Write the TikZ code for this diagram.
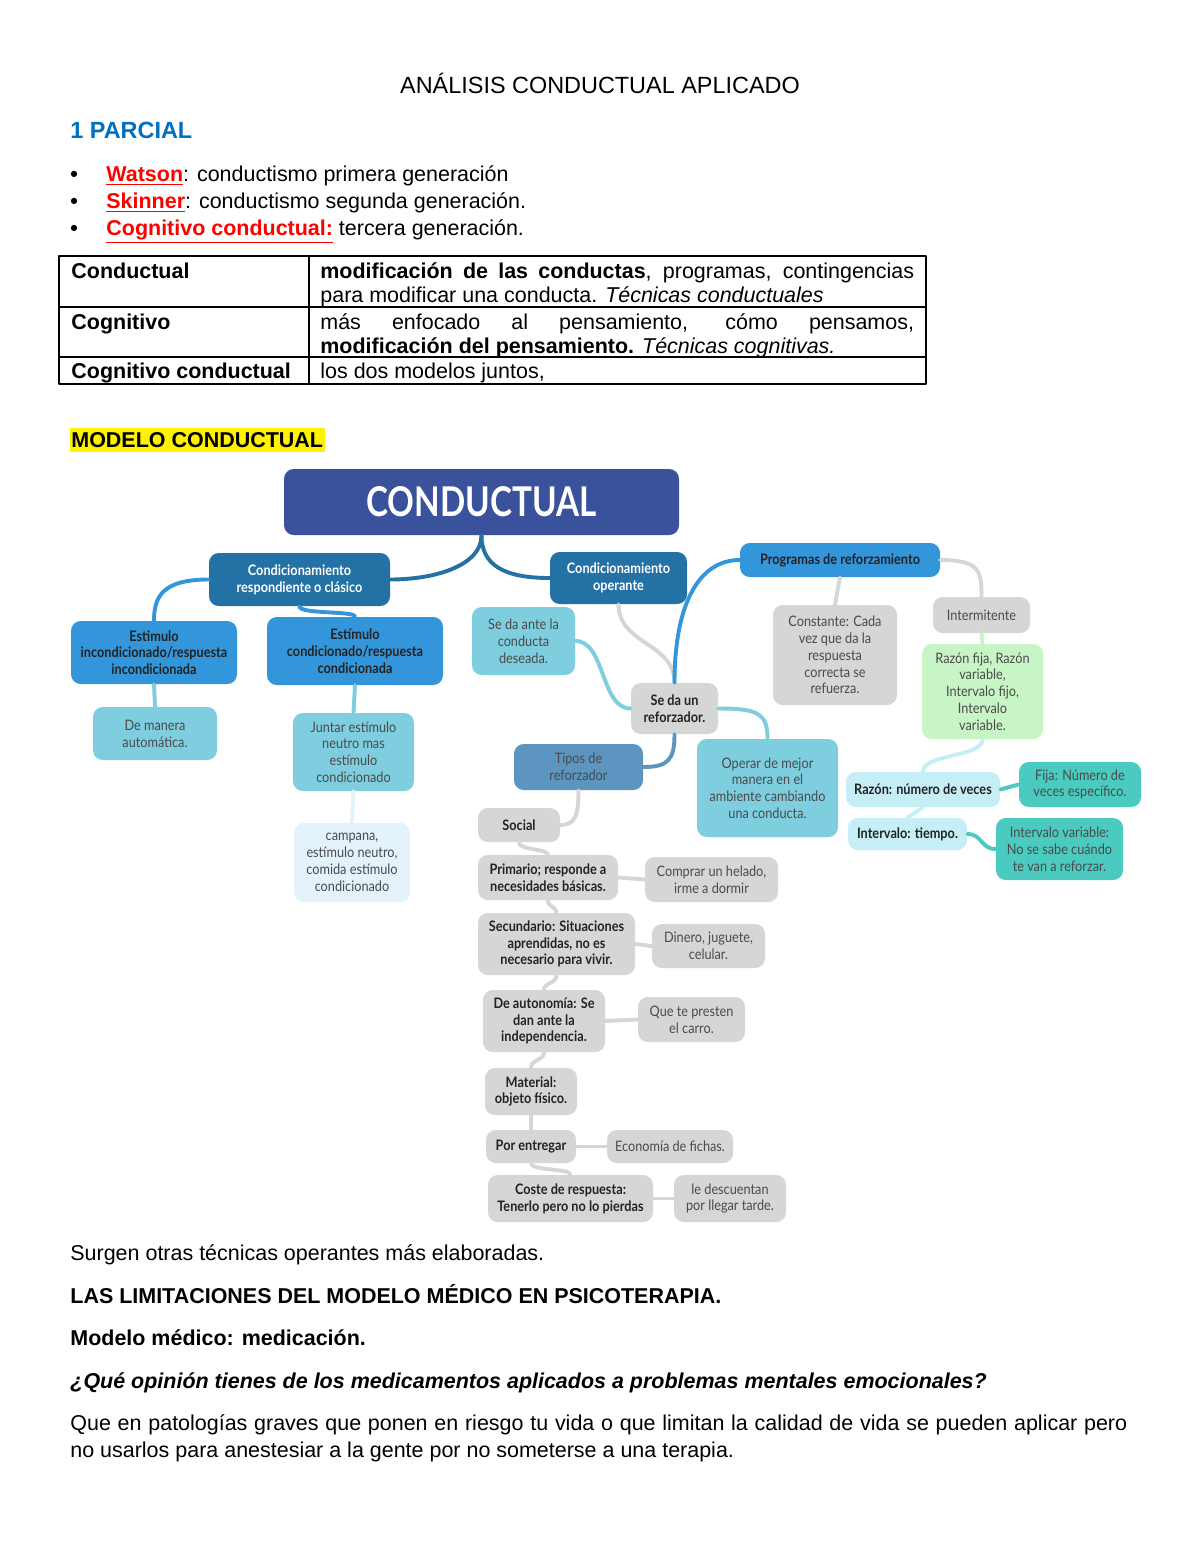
\documentclass[tikz,border=0pt]{standalone}
\usepackage{fontspec}
\setmainfont{Liberation Sans}
\newfontfamily\mapfont[FakeStretch=0.88]{Lato}
\newfontfamily\titfont[FakeStretch=0.81]{Lato}
\newcommand{\pxu}{0.018cm}

\definecolor{titblue}{HTML}{3A519C}
\definecolor{deepblue}{HTML}{2471A5}
\definecolor{midblue}{HTML}{3396DA}
\definecolor{skyc}{HTML}{7FCEE0}
\definecolor{paleb}{HTML}{E4F2FC}
\definecolor{greyb}{HTML}{D4D7D5}
\definecolor{steelb}{HTML}{5B95C0}
\definecolor{mintg}{HTML}{C8F5C6}
\definecolor{icec}{HTML}{C6EEF7}
\definecolor{tealc}{HTML}{4BCBC0}
\definecolor{inkd}{HTML}{222222}
\definecolor{inkg}{HTML}{4A4A4A}
\definecolor{partblue}{HTML}{0070C0}
\definecolor{redname}{HTML}{FF0000}

\tikzset{
  txt/.style={anchor=base west,inner sep=0pt,font=\fontsize{11}{13}\selectfont},
  map/.style={rounded corners=5pt,inner sep=1pt,align=center,text=inkg,
    font=\mapfont\fontsize{7.4}{8.6}\selectfont},
  sz/.style 2 args={minimum width=#1*\pxu,minimum height=#2*\pxu},
  lnk/.style={line width=2pt},
}

\begin{document}
\begin{tikzpicture}[x=0.018cm,y=-0.018cm,line cap=round,line join=round]
  \fill[white] (0,0) rectangle (1200,1553);
  \useasboundingbox (0,0) rectangle (1200,1553);
  \node[txt,anchor=base,font=\fontsize{12}{14}\selectfont] (title) at (600,93) {ANÁLISIS CONDUCTUAL APLICADO};
  \node[txt,text=partblue,font=\fontsize{12}{14}\selectfont\bfseries] (parcial) at (70,138) {1 PARCIAL};
  \node[txt] (b1) at (70,181) {\textbf{•}};
  \node[txt] (b2) at (70,208) {\textbf{•}};
  \node[txt] (b3) at (70,235) {\textbf{•}};
  \node[txt] (watson) at (106,181) {\textcolor{redname}{\textbf{\underline{Watson}}}: conductismo primera generación};
  \node[txt] (skinner) at (106,208) {\textcolor{redname}{\textbf{\underline{Skinner}}}: conductismo segunda generación.};
  \node[txt] (cogcon) at (106,235) {\textcolor{redname}{\textbf{\underline{Cognitivo conductual:}}} tercera generación.};
  \draw[line width=1pt] (59,256) rectangle (926,384);
  \draw[line width=1pt] (59,307) -- (926,307);
  \draw[line width=1pt] (59,357) -- (926,357);
  \draw[line width=1pt] (309,256) -- (309,384);
  \node[txt] (r1a) at (71,278) {\textbf{Conductual}};
  \node[txt] (r1b) at (320,278) {\makebox[10.69cm][s]{\textbf{modificación de las conductas}, programas, contingencias}};
  \node[txt] (r1c) at (320,302) {para modificar una conducta. \textit{Técnicas conductuales}};
  \node[txt] (r2a) at (71,329) {\textbf{Cognitivo}};
  \node[txt] (r2b) at (320,329) {\makebox[10.69cm][s]{más enfocado al pensamiento, cómo pensamos,}};
  \node[txt] (r2c) at (320,353) {\textbf{modificación del pensamiento.} \textit{Técnicas cognitivas.}};
  \node[txt] (r3a) at (71,378) {\textbf{Cognitivo conductual}};
  \node[txt] (r3b) at (320,378) {los dos modelos juntos,};
  \fill[yellow] (70,428) rectangle (325,452);
  \node[txt] (modelo) at (71,447) {\textbf{MODELO CONDUCTUAL}};

  \node[map,sz={395}{66},fill=titblue,text=white,font=\titfont\bfseries\fontsize{21}{24}\selectfont] (cond) at (481.5,502) {CONDUCTUAL};
  \node[map,sz={181}{53},fill=deepblue,text=white] (resp) at (299.5,579.5) {\bfseries Condicionamiento\\\bfseries respondiente o clásico};
  \node[map,sz={137}{52},fill=deepblue,text=white] (oper) at (618.5,578) {\bfseries Condicionamiento\\\bfseries operante};
  \node[map,sz={200}{34},fill=midblue,text=inkd] (prog) at (840,560) {\bfseries Programas de reforzamiento};
  \node[map,sz={166}{63},fill=midblue,text=inkd] (estinc) at (154,652.5) {\bfseries Estimulo\\\bfseries incondicionado/respuesta\\\bfseries incondicionada};
  \node[map,sz={176}{68},fill=midblue,text=inkd] (estcon) at (355,651) {\bfseries Estímulo\\\bfseries condicionado/respuesta\\\bfseries condicionada};
  \node[map,sz={124}{53},fill=skyc] (auto) at (155,733.5) {De manera\\automática.};
  \node[map,sz={121}{78},fill=skyc] (juntar) at (353.5,752) {Juntar estímulo\\neutro mas\\estímulo\\condicionado};
  \node[map,sz={116}{79},fill=paleb] (campana) at (352,862.5) {campana,\\estímulo neutro,\\comida estímulo\\condicionado};
  \node[map,sz={103}{68},fill=skyc] (ante) at (523.5,641) {Se da ante la\\conducta\\deseada.};
  \node[map,sz={87}{51},fill=greyb,text=inkd] (refz) at (674.5,708.5) {\bfseries Se da un\\\bfseries reforzador.};
  \node[map,sz={129}{46},fill=steelb] (tipos) at (578.5,767) {Tipos de\\reforzador};
  \node[map,sz={141}{98},fill=skyc] (operar) at (767.5,788) {Operar de mejor\\manera en el\\ambiente cambiando\\una conducta.};
  \node[map,sz={124}{100},fill=greyb] (const) at (835,655) {Constante: Cada\\vez que da la\\respuesta\\correcta se\\refuerza.};
  \node[map,sz={97}{36},fill=greyb] (interm) at (981.5,615) {Intermitente};
  \node[map,sz={121}{95},fill=mintg] (rfija) at (982.5,691.5) {Razón fija, Razón\\variable,\\Intervalo fijo,\\Intervalo\\variable.};
  \node[map,sz={154}{35},fill=icec,text=inkd] (razon) at (923,789.5) {\bfseries Razón: número de veces};
  \node[map,sz={122}{45},fill=tealc] (fija) at (1080,784.5) {Fija: Número de\\veces específico.};
  \node[map,sz={119}{32},fill=icec,text=inkd] (interv) at (907.5,834) {\bfseries Intervalo: tiempo.};
  \node[map,sz={127}{62},fill=tealc] (ivar) at (1059.5,849) {Intervalo variable:\\No se sabe cuándo\\te van a reforzar.};
  \node[map,sz={82}{34},fill=greyb,text=inkd] (social) at (519,825) {\bfseries Social};
  \node[map,sz={140}{45},fill=greyb,text=inkd] (prim) at (548,877.5) {\bfseries Primario; responde a\\\bfseries necesidades básicas.};
  \node[map,sz={133}{45},fill=greyb] (comprar) at (711.5,879.5) {Comprar un helado,\\irme a dormir};
  \node[map,sz={157}{62},fill=greyb,text=inkd] (secu) at (556.5,944) {\bfseries Secundario: Situaciones\\\bfseries aprendidas, no es\\\bfseries necesario para vivir.};
  \node[map,sz={113}{44},fill=greyb] (dinero) at (708.5,946) {Dinero, juguete,\\celular.};
  \node[map,sz={122}{62},fill=greyb,text=inkd] (auton) at (544,1021) {\bfseries De autonomía: Se\\\bfseries dan ante la\\\bfseries independencia.};
  \node[map,sz={107}{45},fill=greyb] (presten) at (691.5,1019.5) {Que te presten\\el carro.};
  \node[map,sz={92}{47},fill=greyb,text=inkd] (material) at (531,1091.5) {\bfseries Material:\\\bfseries objeto físico.};
  \node[map,sz={90}{33},fill=greyb,text=inkd] (entregar) at (531,1146.5) {\bfseries Por entregar};
  \node[map,sz={126}{33},fill=greyb] (fichas) at (670,1146.5) {Economía de fichas.};
  \node[map,sz={165}{47},fill=greyb,text=inkd] (coste) at (570.5,1198.5) {\bfseries Coste de respuesta:\\\bfseries Tenerlo pero no lo pierdas};
  \node[map,sz={112}{47},fill=greyb] (descu) at (730,1198.5) {le descuentan\\por llegar tarde.};

  \draw[lnk,deepblue] (cond.south) .. controls +(0,30) and +(45,0) .. (resp.east);
  \draw[lnk,deepblue] (cond.south) .. controls +(0,30) and +(-45,0) .. (oper.west);
  \draw[lnk,midblue] (resp.west) .. controls +(-45,0) and +(0,-25) .. (estinc.north);
  \draw[lnk,midblue] (resp.south) .. controls +(0,8) and +(0,-6) .. (estcon.north);
  \draw[lnk,skyc] (estinc.south) -- (auto.north);
  \draw[lnk,skyc] (estcon.south) -- (juntar.north);
  \draw[lnk,paleb] (juntar.south) -- (campana.north);
  \draw[lnk,greyb] (oper.south) .. controls +(0,40) and +(0,-40) .. (refz.north);
  \draw[lnk,skyc] (ante.east) .. controls +(30,0) and +(-30,0) .. (refz.west);
  \draw[lnk,midblue] (refz.north) .. controls +(0,-80) and +(-40,0) .. (prog.west);
  \draw[lnk,skyc] (refz.east) .. controls +(40,0) and +(0,-25) .. (operar.north);
  \draw[lnk,steelb] (refz.south) .. controls +(0,25) and +(25,0) .. (tipos.east);
  \draw[lnk,greyb] (prog.south) -- (const.north);
  \draw[lnk,greyb] (prog.east) .. controls +(40,0) and +(0,-25) .. (interm.north);
  \draw[lnk,mintg] (interm.south) -- (rfija.north);
  \draw[lnk,icec] (rfija.south) .. controls +(0,18) and +(0,-18) .. (razon.north);
  \draw[lnk,tealc] (razon.east) -- (fija.west);
  \draw[lnk,icec] (razon.south) -- (interv.north);
  \draw[lnk,tealc] (interv.east) .. controls +(15,0) and +(-15,0) .. (ivar.west);
  \draw[lnk,greyb] (tipos.south) .. controls +(0,25) and +(15,0) .. (social.east);
  \draw[lnk,greyb] (social.south) .. controls +(0,8) and +(0,-6) .. (prim.north);
  \draw[lnk,greyb] (prim.south) .. controls +(0,7) and +(0,-6) .. (secu.north);
  \draw[lnk,greyb] (prim.east) -- (comprar.west);
  \draw[lnk,greyb] (secu.south) .. controls +(0,8) and +(0,-7) .. (auton.north);
  \draw[lnk,greyb] (secu.east) -- (dinero.west);
  \draw[lnk,greyb] (auton.south) .. controls +(0,8) and +(0,-8) .. (material.north);
  \draw[lnk,greyb] (auton.east) -- (presten.west);
  \draw[lnk,greyb] (material.south) -- (entregar.north);
  \draw[lnk,greyb] (entregar.east) -- (fichas.west);
  \draw[lnk,greyb] (entregar.south) .. controls +(0,7) and +(0,-6) .. (coste.north);
  \draw[lnk,greyb] (coste.east) -- (descu.west);

  \node[txt] (surgen) at (70,1260) {Surgen otras técnicas operantes más elaboradas.};
  \node[txt] (limit) at (70,1303) {\textbf{LAS LIMITACIONES DEL MODELO MÉDICO EN PSICOTERAPIA.}};
  \node[txt] (medico) at (70,1345) {\textbf{Modelo médico: medicación.}};
  \node[txt] (pregunta) at (70,1388) {\textbf{\textit{¿Qué opinión tienes de los medicamentos aplicados a problemas mentales emocionales?}}};
  \node[txt] (resp1) at (70,1430) {\makebox[19.03cm][s]{Que en patologías graves que ponen en riesgo tu vida o que limitan la calidad de vida se pueden aplicar pero}};
  \node[txt] (resp2) at (70,1457) {no usarlos para anestesiar a la gente por no someterse a una terapia.};
\end{tikzpicture}
\end{document}
